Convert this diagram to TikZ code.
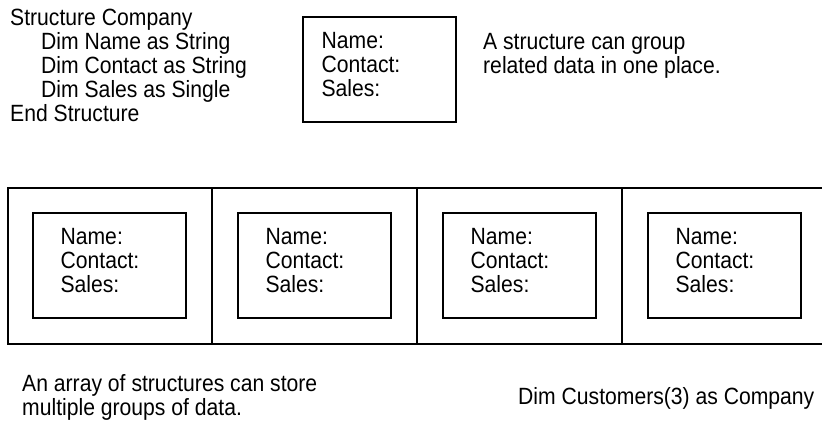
\documentclass[tikz,border=0pt]{standalone}
\usepackage{fontspec}
\setmainfont[FakeStretch=0.9]{Liberation Sans}
\usetikzlibrary{positioning}

\begin{document}
\begin{tikzpicture}[x=1pt, y=-1pt,
        txt/.style={anchor=north west, inner sep=0pt, align=left, font=\fontsize{23.5}{24}\selectfont},
        rec/.style={draw, line width=1.2pt, minimum width=153pt, minimum height=105pt, inner sep=0pt}]
        \useasboundingbox (0,0) rectangle (822,422);
        % one structure
        \node[txt] (code) at (10,9) {Structure Company\\
            \hspace*{31pt}Dim Name as String\\
            \hspace*{31pt}Dim Contact as String\\
            \hspace*{31pt}Dim Sales as Single\\
            End Structure};
        \node[rec] (one) at (379.5,69.5) {};
        \node[txt] (onef) at ([xshift=19pt,yshift=-16pt]one.north west) {Name:\\Contact:\\Sales:};
        \node[txt] (note) at (483,33) {A structure can group\\related data in one place.};
        % array of structures
        \draw[line width=1.8pt] (824,188) -- (8,188) -- (8,344) -- (824,344);
        \foreach \x in {212,417,622} \draw[line width=1.2pt] (\x,188) -- (\x,344);
        \foreach \i in {0,...,3} {
            \node[rec] (cell\i) at (109.5+205*\i,265.5) {};
            \node[txt] (cellf\i) at ([xshift=28pt,yshift=-16pt]cell\i.north west) {Name:\\Contact:\\Sales:};
        }
        \node[txt] (arr) at (22,374) {An array of structures can store\\multiple groups of data.};
        \node[txt] (dim) at (518,387) {Dim Customers(3) as Company};
\end{tikzpicture}
\end{document}
